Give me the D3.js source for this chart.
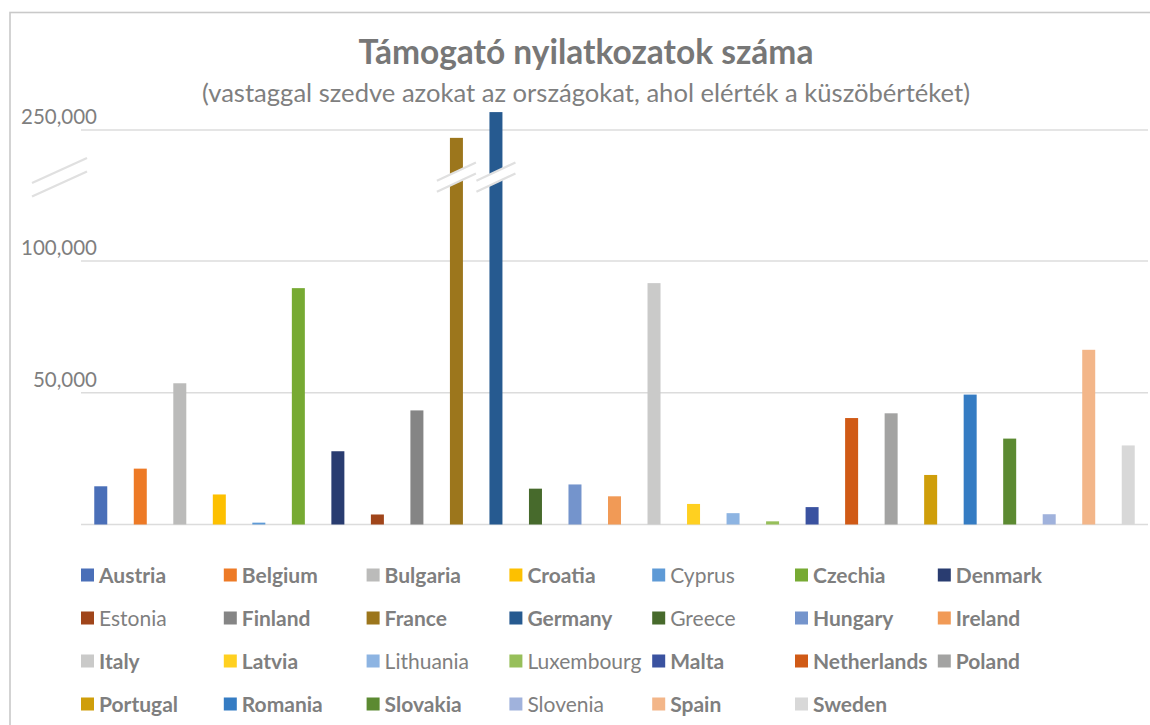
<!DOCTYPE html>
<html>
<head>
<meta charset="utf-8">
<script src="https://cdn.jsdelivr.net/npm/d3@7"></script>
<style>
  html, body { margin: 0; padding: 0; background: #fff; }
  svg { display: block; }
  text { font-family: Lato, "Open Sans", sans-serif; }
</style>
</head>
<body>
<svg id="chart" width="1150" height="725"></svg>
<script>
const countries = ["Austria","Belgium","Bulgaria","Croatia","Cyprus","Czechia","Denmark","Estonia","Finland","France","Germany","Greece","Hungary","Ireland","Italy","Latvia","Lithuania","Luxembourg","Malta","Netherlands","Poland","Portugal","Romania","Slovakia","Slovenia","Spain","Sweden"];
const values = [14500,21200,53600,11400,700,89700,27800,3800,43300,241000,270500,13600,15200,10700,91600,7800,4300,1200,6600,40400,42200,18800,49300,32600,3900,66300,30000];
const reachedThreshold = [true,true,true,true,false,true,true,false,true,true,true,false,true,true,true,true,false,false,true,true,true,true,true,true,false,true,true];
const colors = ["#4a6fb8","#ed7a26","#bbbbba","#fdc000","#5e9ad6","#77aa33","#293c70","#a0451a","#858585","#9c761c","#265a90","#476a2c","#7494cc","#f19a56","#cacac9","#ffd020","#8db4e2","#97bf5a","#3a52a0","#d05a16","#a3a3a2","#cf9e0a","#357cc3","#5c8a32","#a0b2dc","#f3b689","#d8d8d8"];
const tickValues = [50000, 100000, 250000];
const tickLabels = ["50,000", "100,000", "250,000"];
const brokenBars = ["France", "Germany"];
const breakValue = 196000;
const title = "Támogató nyilatkozatok száma";
const subtitle = "(vastaggal szedve azokat az országokat, ahol elérték a küszöbértéket)";

const svg = d3.select("#chart");
const textColor = "#7f7f7f";

// frame
svg.append("rect").attr("x", 10).attr("y", 12.5).attr("width", 1300).attr("height", 900)
  .attr("fill", "none").attr("stroke", "#c9c9c9").attr("stroke-width", 1.6);

// title
svg.append("text").attr("x", 586).attr("y", 64).attr("text-anchor", "middle")
  .attr("font-size", 33.5).attr("font-weight", "bold").attr("fill", "#777").text(title);
svg.append("text").attr("x", 586).attr("y", 102).attr("text-anchor", "middle")
  .attr("font-size", 25.6).attr("fill", textColor).text(subtitle);

// scales
const x = d3.scaleBand().domain(countries).range([81, 1148]).paddingInner(0.671).paddingOuter(0.3355);
const y = d3.scaleLinear().domain([0, 100000, 250000]).range([524.5, 261, 130]);

// gridlines
svg.append("g").selectAll("line").data([0].concat(tickValues)).join("line")
  .attr("x1", 81).attr("x2", 1148)
  .attr("y1", d => y(d)).attr("y2", d => y(d))
  .attr("stroke", "#dcdcdc").attr("stroke-width", 1.3);

// axis labels (above gridlines)
svg.append("g").selectAll("text").data(tickValues).join("text")
  .attr("x", 97).attr("y", d => y(d) - 6).attr("text-anchor", "end")
  .attr("font-size", 20.5).attr("fill", textColor)
  .text((d, i) => tickLabels[i]);

// bars
const data = countries.map((c, i) => ({ c, v: values[i], col: colors[i], bold: reachedThreshold[i] }));
svg.append("g").selectAll("rect").data(data).join("rect")
  .attr("x", d => x(d.c)).attr("width", x.bandwidth())
  .attr("y", d => y(d.v)).attr("height", d => y(0) - y(d.v))
  .attr("fill", d => d.col);

// break marks
function breakMark(cx, cy, halfW, slope, gap) {
  const g = svg.append("g");
  const x1 = cx - halfW, x2 = cx + halfW;
  const yA1 = cy + halfW * slope, yA2 = cy - halfW * slope;
  g.append("path")
    .attr("d", `M${x1},${yA1 - gap/2}L${x2},${yA2 - gap/2}L${x2},${yA2 + gap/2}L${x1},${yA1 + gap/2}Z`)
    .attr("fill", "#fff");
  [-gap/2, gap/2].forEach(o => {
    g.append("line").attr("x1", x1).attr("y1", yA1 + o).attr("x2", x2).attr("y2", yA2 + o)
      .attr("stroke", "#e0e0e0").attr("stroke-width", 2.2);
  });
}
const by = y(breakValue);
breakMark(59.5, by, 27.5, 0.455, 13.5);
brokenBars.forEach(c => breakMark(x(c) + x.bandwidth() / 2, by, 19.5, 0.47, 11));

// legend
const legend = svg.append("g");
const colW = 142.8, rowH = 43;
const items = legend.selectAll("g").data(data).join("g")
  .attr("transform", (d, i) => `translate(${81 + (i % 7) * colW},${575 + Math.floor(i / 7) * rowH})`);
items.append("rect").attr("x", 0).attr("y", -6.5).attr("width", 13).attr("height", 13).attr("fill", d => d.col);
items.append("text").attr("x", 18).attr("y", 7.5).attr("font-size", 21)
  .attr("font-weight", d => d.bold ? "bold" : "normal")
  .attr("fill", textColor).text(d => d.c);
</script>
</body>
</html>
